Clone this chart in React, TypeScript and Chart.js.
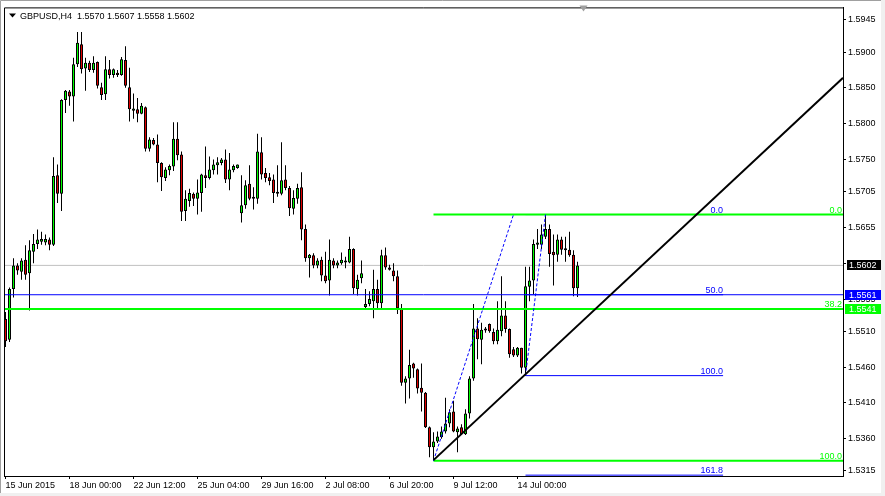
import { useEffect, useRef } from 'react';
import { Chart, registerables } from 'chart.js';

Chart.register(...registerables);

// ---- Candle data (GBPUSD, H4) ----
const opens = [
  1.5527, 1.5498, 1.5569, 1.5602, 1.5593, 1.5610, 1.5591, 1.5621, 1.5632, 1.5635,
  1.5634, 1.5638, 1.5631, 1.5728, 1.5702, 1.5833, 1.5845, 1.5838, 1.5883, 1.5911,
  1.5877, 1.5885, 1.5875, 1.5886, 1.5851, 1.5841, 1.5876, 1.5868, 1.5871, 1.5868,
  1.5889, 1.5851, 1.5818, 1.5820, 1.5814, 1.5823, 1.5765, 1.5777, 1.5771, 1.5745,
  1.5724, 1.5735, 1.5740, 1.5779, 1.5757, 1.5678, 1.5692, 1.5702, 1.5695, 1.5703,
  1.5728, 1.5724, 1.5735, 1.5742, 1.5745, 1.5750, 1.5722, 1.5735, 1.5738, 1.5675,
  1.5686, 1.5716, 1.5695, 1.5695, 1.5760, 1.5731, 1.5725, 1.5722, 1.5703, 1.5702,
  1.5722, 1.5710, 1.5681, 1.5695, 1.5711, 1.5653, 1.5612, 1.5616, 1.5602, 1.5610,
  1.5588, 1.5581, 1.5609, 1.5602, 1.5605, 1.5609, 1.5606, 1.5625, 1.5569, 1.5584,
  1.5544, 1.5548, 1.5552, 1.5569, 1.5549, 1.5616, 1.5599, 1.5595, 1.5587, 1.5542,
  1.5438, 1.5444, 1.5465, 1.5457, 1.5431, 1.5424, 1.5376, 1.5348, 1.5356, 1.5362,
  1.5370, 1.5381, 1.5398, 1.5369, 1.5376, 1.5366, 1.5395, 1.5444, 1.5514, 1.5498,
  1.5513, 1.5520, 1.5509, 1.5496, 1.5510, 1.5532, 1.5513, 1.5485, 1.5476, 1.5487,
  1.5459, 1.5572, 1.5581, 1.5631, 1.5631, 1.5642, 1.5653, 1.5621, 1.5617, 1.5638,
  1.5625, 1.5624, 1.5617, 1.5570,
];
const highs = [
  1.5537, 1.5571, 1.5612, 1.5605, 1.5612, 1.5630, 1.5637, 1.5646, 1.5652, 1.5649,
  1.5645, 1.5641, 1.5753, 1.5743, 1.5834, 1.5847, 1.5847, 1.5892, 1.5928, 1.5928,
  1.5892, 1.5888, 1.5894, 1.5887, 1.5857, 1.5894, 1.5889, 1.5877, 1.5875, 1.5893,
  1.5908, 1.5878, 1.5842, 1.5836, 1.5829, 1.5824, 1.5781, 1.5780, 1.5785, 1.5746,
  1.5739, 1.5743, 1.5802, 1.5802, 1.5761, 1.5707, 1.5709, 1.5704, 1.5722, 1.5730,
  1.5768, 1.5754, 1.5750, 1.5753, 1.5752, 1.5764, 1.5759, 1.5743, 1.5743, 1.5728,
  1.5721, 1.5742, 1.5711, 1.5786, 1.5781, 1.5738, 1.5731, 1.5729, 1.5742, 1.5774,
  1.5742, 1.5713, 1.5707, 1.5716, 1.5732, 1.5659, 1.5618, 1.5619, 1.5612, 1.5614,
  1.5621, 1.5638, 1.5612, 1.5609, 1.5620, 1.5614, 1.5642, 1.5626, 1.5589, 1.5609,
  1.5569, 1.5566, 1.5596, 1.5582, 1.5624, 1.5627, 1.5603, 1.5605, 1.5595, 1.5548,
  1.5447, 1.5484, 1.5466, 1.5458, 1.5465, 1.5425, 1.5377, 1.5369, 1.5370, 1.5377,
  1.5417, 1.5401, 1.5413, 1.5377, 1.5380, 1.5401, 1.5447, 1.5548, 1.5528, 1.5522,
  1.5516, 1.5521, 1.5514, 1.5552, 1.5587, 1.5552, 1.5514, 1.5488, 1.5488, 1.5487,
  1.5600, 1.5600, 1.5638, 1.5653, 1.5659, 1.5673, 1.5659, 1.5645, 1.5645, 1.5642,
  1.5642, 1.5649, 1.5623, 1.5607,
];
const lows = [
  1.5488, 1.5495, 1.5557, 1.5589, 1.5582, 1.5582, 1.5539, 1.5605, 1.5625, 1.5631,
  1.5630, 1.5623, 1.5629, 1.5689, 1.5678, 1.5815, 1.5825, 1.5803, 1.5879, 1.5870,
  1.5846, 1.5872, 1.5871, 1.5849, 1.5833, 1.5833, 1.5863, 1.5864, 1.5865, 1.5867,
  1.5850, 1.5803, 1.5807, 1.5802, 1.5813, 1.5761, 1.5761, 1.5770, 1.5718, 1.5706,
  1.5720, 1.5728, 1.5734, 1.5749, 1.5664, 1.5664, 1.5684, 1.5685, 1.5673, 1.5677,
  1.5710, 1.5722, 1.5729, 1.5729, 1.5742, 1.5717, 1.5707, 1.5732, 1.5737, 1.5662,
  1.5681, 1.5693, 1.5680, 1.5688, 1.5722, 1.5718, 1.5714, 1.5689, 1.5698, 1.5700,
  1.5707, 1.5671, 1.5673, 1.5688, 1.5637, 1.5607, 1.5585, 1.5598, 1.5598, 1.5580,
  1.5577, 1.5560, 1.5598, 1.5598, 1.5603, 1.5598, 1.5605, 1.5562, 1.5560, 1.5577,
  1.5541, 1.5545, 1.5528, 1.5542, 1.5542, 1.5596, 1.5595, 1.5580, 1.5534, 1.5434,
  1.5409, 1.5416, 1.5445, 1.5423, 1.5398, 1.5375, 1.5334, 1.5329, 1.5354, 1.5360,
  1.5367, 1.5376, 1.5369, 1.5341, 1.5365, 1.5365, 1.5388, 1.5441, 1.5471, 1.5464,
  1.5508, 1.5508, 1.5492, 1.5492, 1.5503, 1.5508, 1.5473, 1.5474, 1.5474, 1.5451,
  1.5448, 1.5552, 1.5562, 1.5625, 1.5625, 1.5639, 1.5600, 1.5574, 1.5607, 1.5617,
  1.5607, 1.5614, 1.5559, 1.5558,
];
const closes = [
  1.5496, 1.5569, 1.5602, 1.5595, 1.5609, 1.5589, 1.5623, 1.5632, 1.5638, 1.5639,
  1.5639, 1.5631, 1.5727, 1.5702, 1.5833, 1.5846, 1.5838, 1.5883, 1.5913, 1.5876,
  1.5885, 1.5875, 1.5885, 1.5853, 1.5840, 1.5876, 1.5868, 1.5876, 1.5868, 1.5890,
  1.5853, 1.5820, 1.5821, 1.5814, 1.5825, 1.5765, 1.5778, 1.5771, 1.5745, 1.5725,
  1.5736, 1.5741, 1.5779, 1.5756, 1.5677, 1.5695, 1.5703, 1.5695, 1.5704, 1.5729,
  1.5724, 1.5736, 1.5743, 1.5746, 1.5750, 1.5722, 1.5736, 1.5741, 1.5743, 1.5686,
  1.5714, 1.5695, 1.5696, 1.5761, 1.5729, 1.5724, 1.5720, 1.5703, 1.5702, 1.5721,
  1.5710, 1.5682, 1.5696, 1.5710, 1.5652, 1.5612, 1.5617, 1.5602, 1.5609, 1.5588,
  1.5580, 1.5610, 1.5602, 1.5606, 1.5610, 1.5606, 1.5625, 1.5570, 1.5582, 1.5591,
  1.5548, 1.5555, 1.5569, 1.5549, 1.5616, 1.5599, 1.5596, 1.5587, 1.5542, 1.5438,
  1.5444, 1.5463, 1.5458, 1.5430, 1.5424, 1.5376, 1.5348, 1.5356, 1.5363, 1.5370,
  1.5381, 1.5397, 1.5370, 1.5374, 1.5366, 1.5395, 1.5444, 1.5514, 1.5499, 1.5512,
  1.5511, 1.5510, 1.5496, 1.5512, 1.5532, 1.5513, 1.5478, 1.5476, 1.5487, 1.5459,
  1.5573, 1.5581, 1.5632, 1.5634, 1.5645, 1.5653, 1.5618, 1.5616, 1.5638, 1.5624,
  1.5623, 1.5616, 1.5570, 1.5602,
];

// ---- Axis ticks ----
const timeTickIndex = [0, 16, 32, 48, 64, 80, 96, 112, 128];
const timeTickLabels = [
  '15 Jun 2015', '18 Jun 00:00', '22 Jun 12:00', '25 Jun 04:00', '29 Jun 16:00',
  '2 Jul 08:00', '6 Jul 20:00', '9 Jul 12:00', '14 Jul 00:00',
];
const priceTicks = [
  1.5945, 1.59, 1.585, 1.58, 1.575, 1.5705, 1.5655, 1.5605, 1.5555,
  1.551, 1.546, 1.541, 1.536, 1.5315,
];

// ---- Objects on the chart ----
const bidPrice = 1.5602;
const blueLinePrice = 1.5561;
const greenLinePrice = 1.5541;

const greenFibStart = 107;
const greenFibLabels = ['0.0', '38.2', '100.0'];
const greenFibPrices = [1.5673, 1.5541, 1.5329];

const blueFibStart = 130;
const blueFibEnd = 179.4;
const blueFibLabels = ['0.0', '50.0', '100.0', '161.8'];
const blueFibPrices = [1.5673, 1.5561, 1.5448, 1.5309];

const greenFibTrendX = [107, 127];
const greenFibTrendY = [1.5329, 1.5673];
const blueFibTrendX = [130, 135];
const blueFibTrendY = [1.5448, 1.5673];

const trendX = [107, 209.4];
const trendY = [1.533, 1.5864];

const titleText = 'GBPUSD,H4  1.5570 1.5607 1.5558 1.5602';

const X_MIN = -0.375;
const X_MAX = 209.375;
const Y_MIN = 1.53078;
const Y_MAX = 1.59624;

const FONT = "'Liberation Sans', Arial, sans-serif";
const BULL = '#00ff00';
const BEAR = '#e00000';
const LIME = '#00ff00';
const BLUE = '#0000ff';

export default function App() {
  const ref = useRef<HTMLCanvasElement>(null);

  useEffect(() => {
    const canvas = ref.current;
    if (!canvas) return;
    const idx = closes.map((_, i) => i);
    const bodyData = idx.map((i) => ({ x: i, y: [opens[i], closes[i]] }));
    const wickData = idx.map((i) => ({ x: i, y: [lows[i], highs[i]] }));
    const bodyColors = idx.map((i) => (closes[i] >= opens[i] ? BULL : BEAR));

    const seg = (x0: number, y0: number, x1: number, y1: number) => [
      { x: x0, y: y0 },
      { x: x1, y: y1 },
    ];
    const lineDs = (data: any[], color: string, width: number, order: number, dash: number[] = []) => ({
      type: 'line' as const,
      data,
      borderColor: color,
      borderWidth: width,
      borderDash: dash,
      pointRadius: 0,
      pointHoverRadius: 0,
      fill: false,
      tension: 0,
      order,
      clip: 0,
    });

    const datasets: any[] = [
      lineDs(seg(X_MIN, bidPrice, X_MAX, bidPrice), '#c0c0c0', 1, 30),
      {
        type: 'bar',
        data: wickData,
        backgroundColor: '#000000',
        borderWidth: 0,
        barThickness: 1,
        grouped: false,
        inflateAmount: 0,
        order: 21,
      },
      {
        type: 'bar',
        data: bodyData,
        backgroundColor: bodyColors,
        borderColor: '#000000',
        borderWidth: 1,
        borderSkipped: false,
        barThickness: 3,
        minBarLength: 2,
        grouped: false,
        inflateAmount: 0,
        order: 20,
      },
      lineDs(seg(X_MIN, blueLinePrice, X_MAX, blueLinePrice), BLUE, 1, 12),
      lineDs(seg(X_MIN, greenLinePrice, X_MAX, greenLinePrice), LIME, 2, 8),
    ];
    blueFibPrices.forEach((p) => datasets.push(lineDs(seg(blueFibStart, p, blueFibEnd, p), BLUE, 1, 11)));
    greenFibPrices.forEach((p) => datasets.push(lineDs(seg(greenFibStart, p, X_MAX, p), LIME, 2, 8)));
    datasets.push(
      lineDs(seg(greenFibTrendX[0], greenFibTrendY[0], greenFibTrendX[1], greenFibTrendY[1]), BLUE, 1, 5, [3, 2]),
    );
    datasets.push(
      lineDs(seg(blueFibTrendX[0], blueFibTrendY[0], blueFibTrendX[1], blueFibTrendY[1]), BLUE, 1, 5, [3, 2]),
    );
    datasets.push(lineDs(seg(trendX[0], trendY[0], trendX[1], trendY[1]), '#000000', 2, 1));

    const decor = {
      id: 'mt4decor',
      beforeDraw(chart: any) {
        const { ctx, width, height } = chart;
        ctx.save();
        ctx.fillStyle = '#ffffff';
        ctx.fillRect(0, 0, width, height);
        ctx.restore();
      },
      afterDraw(chart: any) {
        const { ctx, chartArea, scales, width, height } = chart;
        const xs = scales.x;
        const ys = scales.y;
        ctx.save();
        // plot frame (left and top edges)
        ctx.strokeStyle = '#000000';
        ctx.lineWidth = 1;
        ctx.beginPath();
        ctx.moveTo(chartArea.left + 0.5, chartArea.bottom);
        ctx.lineTo(chartArea.left + 0.5, chartArea.top + 0.5);
        ctx.lineTo(chartArea.right, chartArea.top + 0.5);
        ctx.stroke();

        // window frame
        ctx.strokeStyle = '#a0a0a0';
        ctx.beginPath();
        ctx.moveTo(0.5, height);
        ctx.lineTo(0.5, 0.5);
        ctx.lineTo(width, 0.5);
        ctx.stroke();
        ctx.fillStyle = '#f0f0f0';
        ctx.fillRect(width - 4, 0, 4, height);
        ctx.fillRect(0, height - 3, width, 3);

        // title
        ctx.font = `9px ${FONT}`;
        ctx.fillStyle = '#000000';
        ctx.textAlign = 'left';
        ctx.textBaseline = 'alphabetic';
        ctx.fillText(titleText, chartArea.left + 16, chartArea.top + 12);
        ctx.beginPath();
        ctx.moveTo(chartArea.left + 5, chartArea.top + 6);
        ctx.lineTo(chartArea.left + 12, chartArea.top + 6);
        ctx.lineTo(chartArea.left + 8.5, chartArea.top + 10);
        ctx.closePath();
        ctx.fill();

        // chart shift marker
        const sx = xs.getPixelForValue(closes.length + 0.5);
        ctx.fillStyle = '#a0a0a0';
        ctx.beginPath();
        ctx.moveTo(sx - 4, chartArea.top - 2);
        ctx.lineTo(sx + 4, chartArea.top - 2);
        ctx.lineTo(sx, chartArea.top + 4);
        ctx.closePath();
        ctx.fill();

        // fib labels
        ctx.textAlign = 'right';
        ctx.textBaseline = 'alphabetic';
        ctx.fillStyle = LIME;
        greenFibPrices.forEach((p, i) => {
          ctx.fillText(greenFibLabels[i], chartArea.right - 1, Math.round(ys.getPixelForValue(p)) - 2);
        });
        ctx.fillStyle = BLUE;
        blueFibPrices.forEach((p, i) => {
          ctx.fillText(blueFibLabels[i], xs.getPixelForValue(blueFibEnd), Math.round(ys.getPixelForValue(p)) - 2);
        });

        // price boxes on the axis
        const box = (p: number, bg: string, x0: number) => {
          const y = Math.round(ys.getPixelForValue(p));
          ctx.fillStyle = bg;
          ctx.fillRect(x0, y - 5, width - 4 - x0, 10);
          ctx.fillStyle = '#ffffff';
          ctx.textAlign = 'left';
          ctx.textBaseline = 'middle';
          ctx.fillText(p.toFixed(4), chartArea.right + 6, y + 0.5);
        };
        box(bidPrice, '#000000', chartArea.right + 4);
        box(blueLinePrice, BLUE, chartArea.right + 2);
        box(greenLinePrice, LIME, chartArea.right + 2);
        ctx.restore();
      },
    };

    const chart = new Chart(canvas, {
      type: 'bar',
      data: { datasets },
      options: {
        animation: false,
        responsive: false,
        devicePixelRatio: 1,
        events: [],
        layout: { padding: { left: 4, top: 4, right: 0, bottom: 0 } },
        plugins: {
          legend: { display: false },
          tooltip: { enabled: false },
          title: { display: false },
        },
        scales: {
          x: {
            type: 'linear',
            min: X_MIN,
            max: X_MAX,
            offset: false,
            grid: { display: true, drawOnChartArea: false, drawTicks: true, tickLength: 3, color: '#000000', offset: false },
            border: { display: true, color: '#000000', width: 1 },
            ticks: {
              autoSkip: false,
              maxRotation: 0,
              minRotation: 0,
              align: 'start',
              padding: 1,
              color: '#000000',
              font: { family: FONT, size: 9 },
              callback: (v: any) => {
                const k = timeTickIndex.indexOf(Number(v));
                return k >= 0 ? timeTickLabels[k] : '';
              },
            },
            afterBuildTicks: (s: any) => {
              s.ticks = timeTickIndex.map((v) => ({ value: v }));
            },
            afterFit: (s: any) => {
              s.height = 20;
            },
          },
          y: {
            type: 'linear',
            position: 'right',
            min: Y_MIN,
            max: Y_MAX,
            beginAtZero: false,
            grid: { display: true, drawOnChartArea: false, drawTicks: true, tickLength: 3, color: '#000000' },
            border: { display: true, color: '#000000', width: 1 },
            ticks: {
              padding: 2,
              color: '#000000',
              crossAlign: 'near',
              font: { family: FONT, size: 9 },
              callback: (v: any) => Number(v).toFixed(4),
            },
            afterBuildTicks: (s: any) => {
              s.ticks = priceTicks.map((v) => ({ value: v }));
            },
            afterFit: (s: any) => {
              s.width = 42;
            },
          },
        },
      } as any,
      plugins: [decor],
    });
    return () => chart.destroy();
  }, []);

  return (
    <div style={{ position: 'absolute', left: 0, top: 0, width: 885, height: 496, background: '#fff' }}>
      <canvas ref={ref} width={885} height={496} style={{ display: 'block', width: 885, height: 496 }} />
    </div>
  );
}
